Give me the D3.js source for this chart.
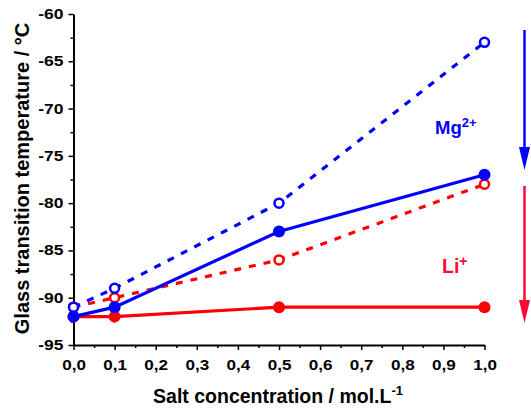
<!DOCTYPE html>
<html><head><meta charset="utf-8">
<script src="https://cdn.jsdelivr.net/npm/d3@7"></script>
<style>body{margin:0;background:#fff}svg{display:block}text{font-family:"Liberation Sans",Arial,sans-serif;font-weight:bold}</style>
</head><body>
<script>
const concentrations = [0.0, 0.1, 0.5, 1.0];
const mgSolid = [-92, -91, -83, -77];
const mgOpen  = [-91, -89, -80, -63];
const liSolid = [-92, -92, -91, -91];
const liOpen  = [-91, -90, -86, -78];
const xTicks = [0,0.1,0.2,0.3,0.4,0.5,0.6,0.7,0.8,0.9,1.0];
const yTicks = [-95,-90,-85,-80,-75,-70,-65,-60];

const W = 531, H = 410;
const svg = d3.select("body").append("svg").attr("width", W).attr("height", H);
const x = d3.scaleLinear().domain([0, 1]).range([73.5, 484.5]);
const y = d3.scaleLinear().domain([-95, -60]).range([345, 14]);
const blue = "#0000ff", red = "#ff0000", red2 = "#ff0a38";

// minor ticks
const xMinor = d3.range(0.05, 1.0, 0.1);
const yMinor = d3.range(-92.5, -60, 5);
svg.append("g").attr("transform", "translate(0,345)")
  .call(d3.axisBottom(x).tickValues(xMinor).tickSize(3).tickFormat(""))
  .call(g => g.select(".domain").remove())
  .selectAll("line").attr("stroke-width", 1.5);
svg.append("g").attr("transform", "translate(73.5,0)")
  .call(d3.axisLeft(y).tickValues(yMinor).tickSize(3).tickFormat(""))
  .call(g => g.select(".domain").remove())
  .selectAll("line").attr("stroke-width", 1.5);

const fmt = d => d3.format(".1f")(d).replace(".", ",");
const gx = svg.append("g").attr("transform", "translate(0,345)")
  .call(d3.axisBottom(x).tickValues(xTicks).tickSize(5).tickSizeOuter(0).tickFormat(fmt));
const gy = svg.append("g").attr("transform", "translate(73.5,0)")
  .call(d3.axisLeft(y).tickValues(yTicks).tickSize(5).tickSizeOuter(0).tickFormat(d => d));
[gx, gy].forEach(g => {
  g.select(".domain").attr("stroke-width", 2);
  g.selectAll(".tick line").attr("stroke-width", 1.5);
  g.selectAll("text").attr("font-size", 14).attr("fill", "#000")
   .style("font-family", "'Liberation Sans', Arial, sans-serif").style("font-weight", "bold");
});
gx.selectAll("text").attr("y", 0).attr("dy", 0).attr("transform", "translate(0,25) scale(1.22,1)");
gy.selectAll("text").attr("x", 0).attr("transform", "translate(-10,0) scale(1.25,1)");

function series(vals, color, dashed, open) {
  const data = concentrations.map((c, i) => [c, vals[i]]);
  svg.append("path").datum(data)
    .attr("d", d3.line().x(d => x(d[0])).y(d => y(d[1])))
    .attr("fill", "none").attr("stroke", color).attr("stroke-width", 3.2)
    .attr("stroke-dasharray", dashed ? "7,8" : null);
  svg.append("g").selectAll("circle").data(data).join("circle")
    .attr("cx", d => x(d[0])).attr("cy", d => y(d[1]))
    .attr("r", open ? 4.5 : 6)
    .attr("fill", open ? "#fff" : color)
    .attr("stroke", color).attr("stroke-width", open ? 2.5 : 0);
}
series(liOpen, red, true, true);
series(mgOpen, blue, true, true);
series(liSolid, red, false, false);
series(mgSolid, blue, false, false);

// labels
const mg = svg.append("text").attr("x", 435).attr("y", 134).attr("fill", blue).attr("font-size", 18.5);
mg.append("tspan").text("Mg");
mg.append("tspan").text("2+").attr("font-size", 13).attr("dy", -7);
const li = svg.append("text").attr("x", 442).attr("y", 273).attr("fill", red2).attr("font-size", 19.5);
li.append("tspan").text("Li");
li.append("tspan").text("+").attr("font-size", 14).attr("dy", -7);

// arrows
function arrow(x0, y0, y1, color) {
  svg.append("line").attr("x1", x0).attr("x2", x0).attr("y1", y0).attr("y2", y1 - 20)
    .attr("stroke", color).attr("stroke-width", 2.5);
  svg.append("path").attr("d", `M${x0-5.5},${y1-23} L${x0+5.5},${y1-23} L${x0},${y1} Z`).attr("fill", color);
}
arrow(524.5, 30, 170, blue);
arrow(524.5, 186, 323, red2);

// axis titles
svg.append("text").attr("transform", "translate(28.5,178.5) rotate(-90)")
  .attr("text-anchor", "middle").attr("font-size", 20).text("Glass transition temperature / °C");
const xt = svg.append("text").attr("x", 278).attr("y", 403).attr("text-anchor", "middle").attr("font-size", 19.5);
xt.append("tspan").text("Salt concentration / mol.L");
xt.append("tspan").text("-1").attr("font-size", 13).attr("dy", -8);
</script>
</body></html>
